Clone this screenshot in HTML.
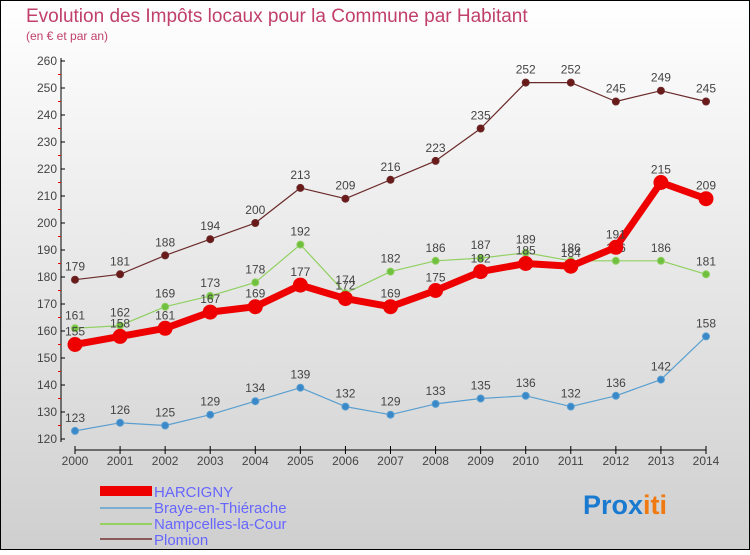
<!DOCTYPE html>
<html><head><meta charset="utf-8"><style>
html,body{margin:0;padding:0}
body{width:750px;height:550px;overflow:hidden;font-family:"Liberation Sans",sans-serif}
</style></head><body>
<svg id="chart" width="750" height="550" xmlns="http://www.w3.org/2000/svg">
<defs><linearGradient id="bg" x1="0" y1="0" x2="0" y2="1"><stop offset="0" stop-color="#ffffff"/><stop offset="1" stop-color="#cfcfcf"/></linearGradient></defs>
<rect x="0.5" y="0.5" width="749" height="549" fill="url(#bg)" stroke="#000"/>
<text x="26" y="22" font-size="19" fill="#c0406a">Evolution des Impôts locaux pour la Commune par Habitant</text>
<text x="26" y="40" font-size="12" fill="#c0406a">(en € et par an)</text>
<g id="axes"></g><g id="series"></g>
<g>
<rect x="100" y="486" width="52" height="10" fill="#e00"/>
<line x1="100" y1="508" x2="152" y2="508" stroke="#7aaed0" stroke-width="2"/>
<line x1="100" y1="524" x2="152" y2="524" stroke="#96d060" stroke-width="2"/>
<line x1="100" y1="539" x2="152" y2="539" stroke="#8a5a5a" stroke-width="2"/>
<text x="154" y="497" font-size="15" fill="#6666ff">HARCIGNY</text>
<text x="154" y="513" font-size="15" fill="#6666ff">Braye-en-Thiérache</text>
<text x="154" y="529" font-size="15" fill="#6666ff">Nampcelles-la-Cour</text>
<text x="154" y="545" font-size="15" fill="#6666ff">Plomion</text>
</g>
<text x="583" y="514" font-size="27" font-weight="bold"><tspan fill="#1a7ad0">Pro</tspan><tspan fill="#1a7ad0">x</tspan><tspan fill="#f07a10">iti</tspan></text>
</svg>
<script>
const years=[2000,2001,2002,2003,2004,2005,2006,2007,2008,2009,2010,2011,2012,2013,2014];
const harcigny=[155,158,161,167,169,177,172,169,175,182,185,184,191,215,209];
const braye=[123,126,125,129,134,139,132,129,133,135,136,132,136,142,158];
const nampcelles=[161,162,169,173,178,192,174,182,186,187,189,186,186,186,181];
const plomion=[179,181,188,194,200,213,209,216,223,235,252,252,245,249,245];
const yTicks=[120,130,140,150,160,170,180,190,200,210,220,230,240,250,260];
const NS="http://www.w3.org/2000/svg";
function X(i){return 75+i*(706-75)/(years.length-1);}
function Y(v){return 439-(v-120)*(439-61)/140;}
function mk(t,a,p){const e=document.createElementNS(NS,t);for(const k in a)e.setAttribute(k,a[k]);p.appendChild(e);return e;}
const ax=document.getElementById('axes');
const yl=mk('line',{x1:61,y1:58,x2:61,y2:442,stroke:'#000'},ax);


yTicks.forEach(v=>{
 mk('line',{x1:61,y1:Y(v),x2:65,y2:Y(v),stroke:'#000'},ax);
 if(v<260)mk('line',{x1:58,y1:Y(v+5),x2:61,y2:Y(v+5),stroke:'#e00'},ax);
 const t=mk('text',{x:57,y:Y(v)+4,'font-size':12,fill:'#444','text-anchor':'end'},ax);
 
 
 t.textContent=v;
});
const xl=mk('line',{x1:75,y1:450,x2:706,y2:450,stroke:'#000'},ax);


years.forEach((y,i)=>{
 mk('line',{x1:X(i),y1:446,x2:X(i),y2:454,stroke:'#000'},ax);
 const t=mk('text',{x:X(i),y:465,'font-size':12,fill:'#444','text-anchor':'middle'},ax);
 
 
 t.textContent=y;
});
const sg=document.getElementById('series');
function draw(name,data,color,w,r,dot){
 const g=mk('g',{},sg);
 
 
 mk('polyline',{points:data.map((v,i)=>X(i)+','+Y(v)).join(' '),fill:'none',stroke:color,'stroke-width':w,'stroke-linejoin':'round'},g);
 data.forEach((v,i)=>{
  const c=mk('circle',{cx:X(i),cy:Y(v),r:r,fill:dot,stroke:color,'stroke-width':1},g);
  
  
  const t=mk('text',{x:X(i),y:Y(v)-9,'font-size':12,fill:'#444','text-anchor':'middle'},g);
  
  
  t.textContent=v;
 });
}
draw('series-plomion',plomion,'#6b2a2a',1.2,3.5,'#6b1a1a');
draw('series-braye',braye,'#5a9fd0',1.2,3.5,'#3a88c8');
draw('series-nampcelles',nampcelles,'#90d060',1.2,3.5,'#70c040');
draw('series-harcigny',harcigny,'#ee0000',7,7,'#ee0000');
</script>
</body></html>
